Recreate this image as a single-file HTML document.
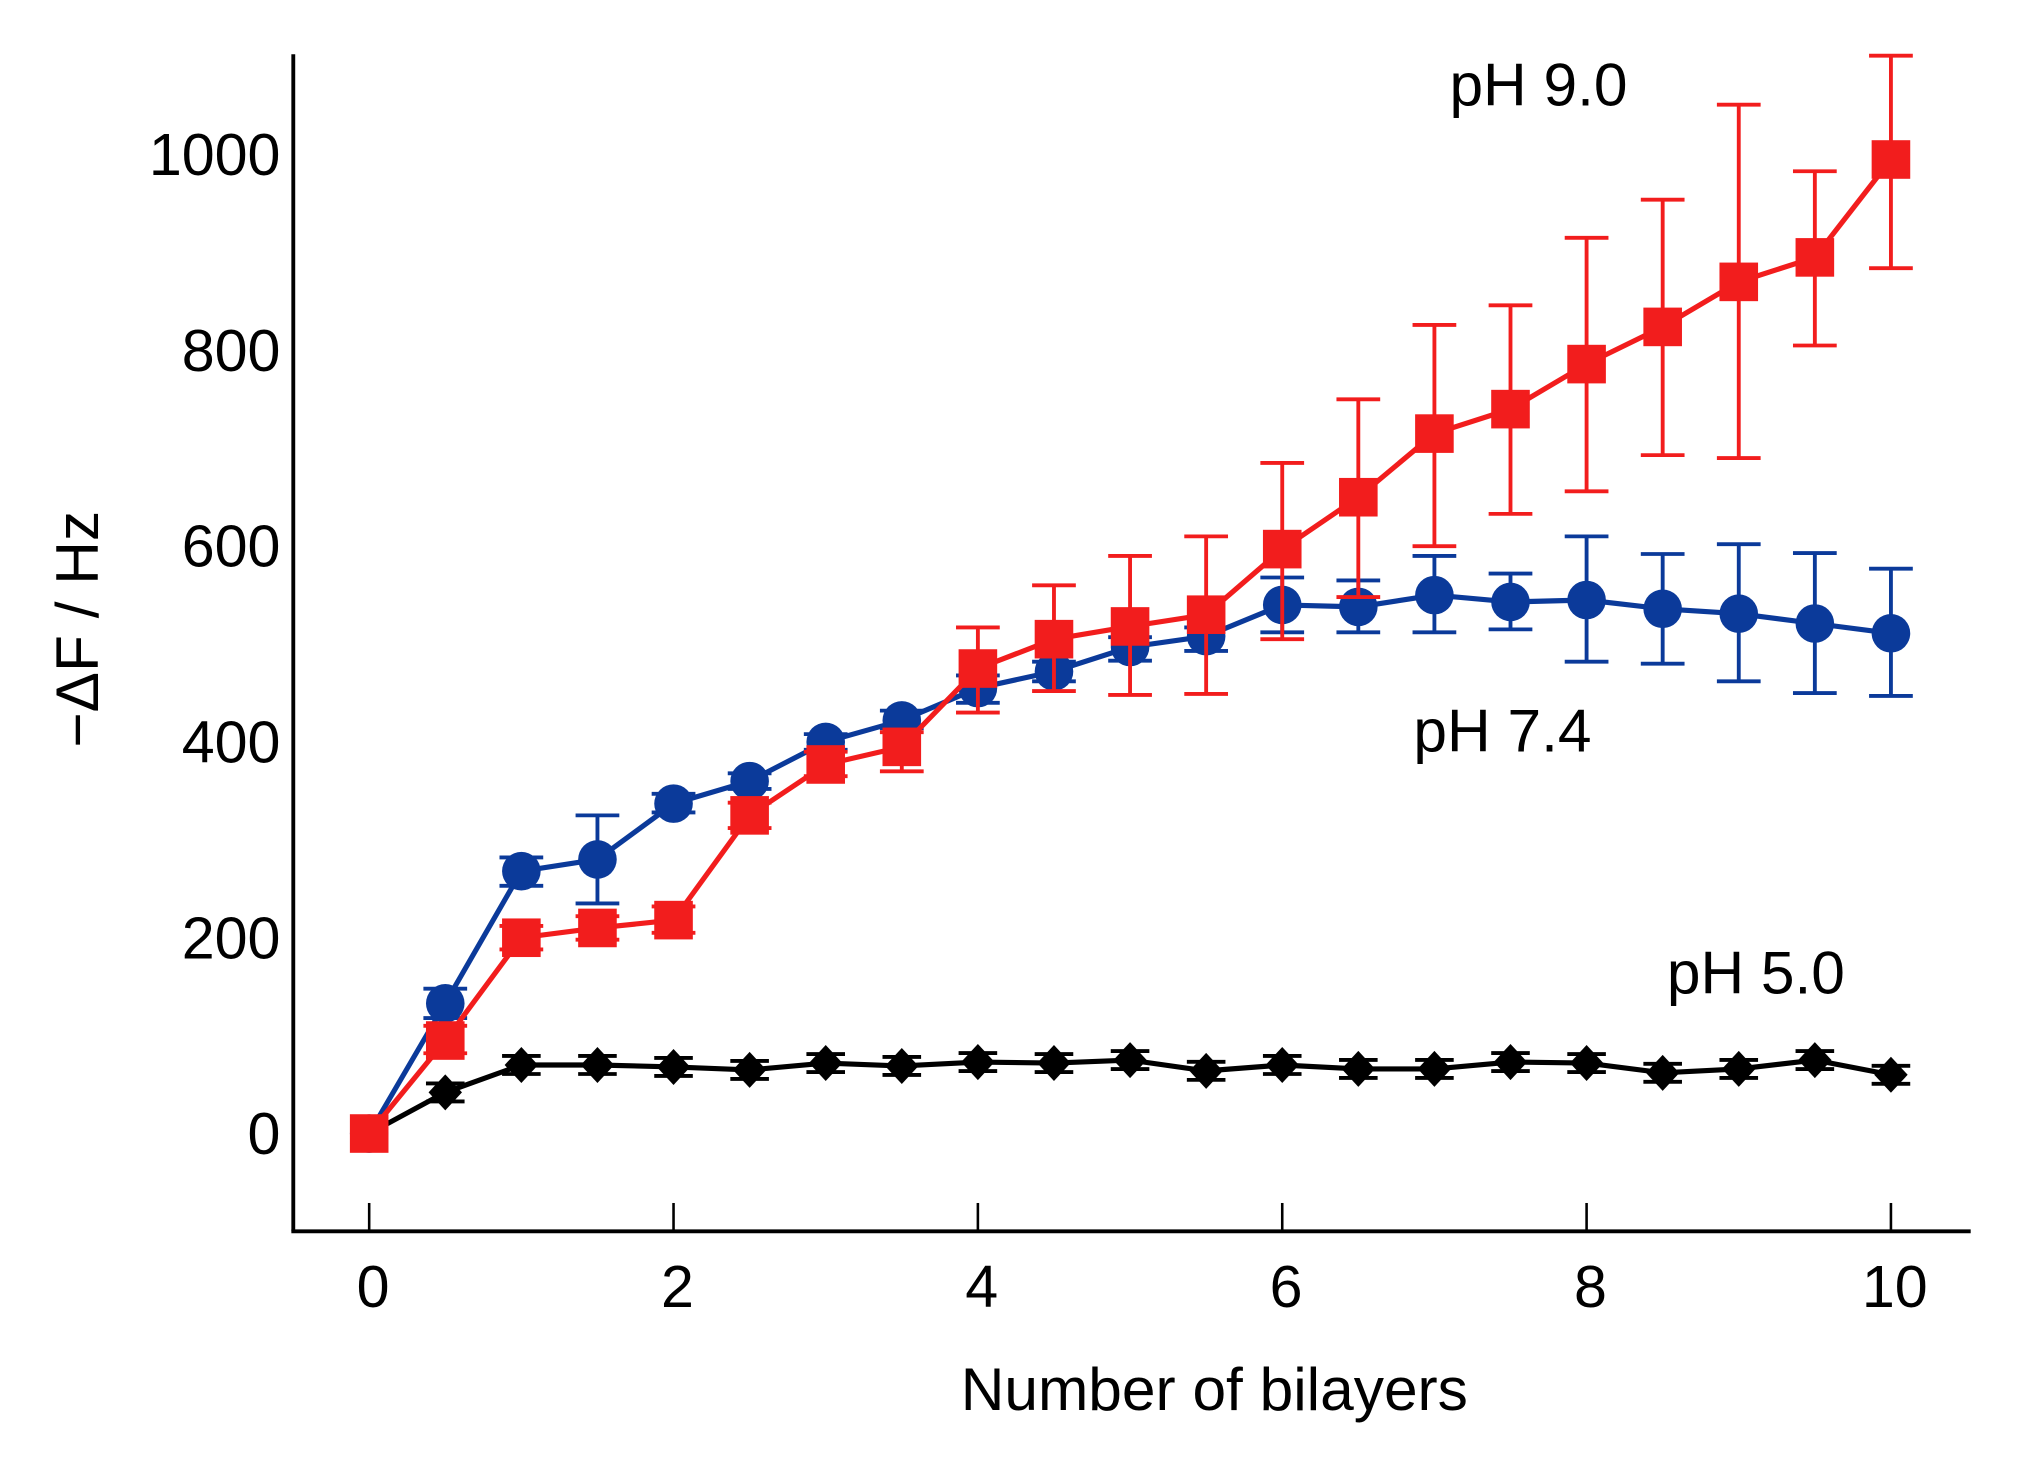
<!DOCTYPE html>
<html><head><style>html,body{margin:0;padding:0;background:#fff}svg{display:block}</style></head>
<body>
<svg id="s" width="2017" height="1465" viewBox="0 0 1568 1138.5" xmlns="http://www.w3.org/2000/svg" font-family="Liberation Sans, Arial, sans-serif">
<rect width="1568" height="1139" fill="#fff"/>
<g id="g"></g>
<text x="1196" y="82" font-size="47" text-anchor="middle">pH 9.0</text>
<text x="1168" y="584" font-size="47" text-anchor="middle">pH 7.4</text>
<text x="1365" y="772" font-size="47" text-anchor="middle">pH 5.0</text>
<text x="944" y="1096" font-size="47" text-anchor="middle">Number of bilayers</text>
<text transform="translate(76,489) rotate(-90)" font-size="47" text-anchor="middle">−ΔF / Hz</text>
</svg>
<script>
var g=document.getElementById('g'),h='';
function X(v){return 287+v*118.3}function Y(v){return 881-v*0.761}
h+='<line x1="228" y1="42" x2="228" y2="957" stroke="#000" stroke-width="3"/>';
h+='<line x1="226.5" y1="957" x2="1532" y2="957" stroke="#000" stroke-width="3"/>';
for(var i=0;i<=10;i+=2){h+='<line x1="'+X(i)+'" y1="957" x2="'+X(i)+'" y2="935" stroke="#000" stroke-width="2"/>';h+='<text x="'+(X(i)+3)+'" y="1016" font-size="46" text-anchor="middle">'+i+'</text>';}
for(var v=0;v<=1000;v+=200){h+='<text x="218" y="'+(Y(v)+16)+'" font-size="46" text-anchor="end">'+v+'</text>';}
var xs=[];for(i=0;i<=20;i++)xs.push(i/2);
var blue=[0,133,268,280,337,360,400,422,455,472,497,508,540,538,550,543,545,536,531,521,511];
var be=[[0,0],[118,148],[253,282],[235,325],[328,347],[352,368],[392,408],[414,432],[440,468],[462,482],[483,507],[493,517],[512,568],[512,565],[512,590],[515,572],[482,610],[480,592],[462,602],[450,593],[447,577]];
var red=[0,95,200,210,218,325,377,395,475,505,518,530,597,650,715,740,786,824,870,895,995];
var re=[[-8,8],[82,110],[188,212],[198,222],[205,232],[312,338],[365,390],[370,410],[430,517],[452,560],[448,590],[449,610],[505,685],[548,750],[600,826],[633,846],[656,915],[693,954],[690,1051],[805,983],[884,1101]];
var blk=[0,42,70,70,68,65,72,69,73,72,75,64,70,66,66,73,72,62,66,75,60];
function err(a,c){var s='';for(var i=1;i<a.length;i++){var x=X(xs[i]),y1=Y(a[i][0]),y2=Y(a[i][1]);s+='<line x1="'+x+'" y1="'+y1+'" x2="'+x+'" y2="'+y2+'" stroke="'+c+'" stroke-width="3"/><line x1="'+(x-17)+'" y1="'+y1+'" x2="'+(x+17)+'" y2="'+y1+'" stroke="'+c+'" stroke-width="3"/><line x1="'+(x-17)+'" y1="'+y2+'" x2="'+(x+17)+'" y2="'+y2+'" stroke="'+c+'" stroke-width="3"/>';}return s;}
function line(a,c){return '<polyline fill="none" stroke="'+c+'" stroke-width="4" points="'+a.map(function(v,i){return X(xs[i])+','+Y(v)}).join(' ')+'"/>';}
var bs='';blk.forEach(function(v,i){var x=X(xs[i]),y=Y(v);if(i>0)bs+='<line x1="'+(x-15)+'" y1="'+(y-7)+'" x2="'+(x+15)+'" y2="'+(y-7)+'" stroke="#000" stroke-width="3"/><line x1="'+(x-15)+'" y1="'+(y+7)+'" x2="'+(x+15)+'" y2="'+(y+7)+'" stroke="#000" stroke-width="3"/>';});
h+=bs+line(blk,'#000');
blk.forEach(function(v,i){var x=X(xs[i]),y=Y(v);h+='<polygon points="'+x+','+(y-14)+' '+(x+13)+','+y+' '+x+','+(y+14)+' '+(x-13)+','+y+'" fill="#000"/>';});
h+=err(be,'#0b3a9a')+line(blue,'#0b3a9a');
blue.forEach(function(v,i){h+='<circle cx="'+X(xs[i])+'" cy="'+Y(v)+'" r="15" fill="#0b3a9a"/>';});
h+=err(re,'#f21d1d')+line(red,'#f21d1d');
red.forEach(function(v,i){h+='<rect x="'+(X(xs[i])-15)+'" y="'+(Y(v)-15)+'" width="30" height="30" fill="#f21d1d"/>';});
g.innerHTML=h;
</script>
</body></html>
